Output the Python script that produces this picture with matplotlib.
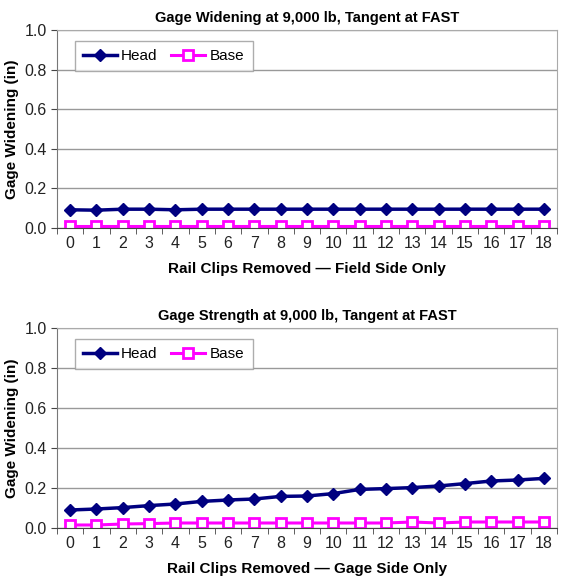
import numpy as np
import matplotlib.pyplot as plt

plt.rcParams['font.family'] = ['Liberation Sans Narrow', 'Liberation Sans', 'DejaVu Sans']

clips = list(range(19))

# Field side only
field_head = [0.092, 0.090, 0.095, 0.095, 0.092, 0.095, 0.095, 0.095, 0.095, 0.095,
              0.095, 0.095, 0.095, 0.095, 0.095, 0.095, 0.095, 0.095, 0.095]
field_base = [0.012, 0.012, 0.012, 0.012, 0.012, 0.012, 0.012, 0.012, 0.012, 0.012,
              0.012, 0.012, 0.012, 0.012, 0.012, 0.012, 0.012, 0.012, 0.012]

# Gage side only
gage_head = [0.090, 0.095, 0.102, 0.112, 0.120, 0.133, 0.140, 0.145, 0.158, 0.160,
             0.172, 0.193, 0.197, 0.202, 0.210, 0.222, 0.235, 0.240, 0.248]
gage_base = [0.015, 0.015, 0.020, 0.022, 0.025, 0.025, 0.025, 0.025, 0.025, 0.025,
             0.025, 0.025, 0.025, 0.030, 0.025, 0.030, 0.030, 0.030, 0.030]

panels = [
    ('Gage Widening at 9,000 lb, Tangent at FAST', 'Rail Clips Removed \u2014 Field Side Only',
     field_head, field_base),
    ('Gage Strength at 9,000 lb, Tangent at FAST', 'Rail Clips Removed \u2014 Gage Side Only',
     gage_head, gage_base),
]

navy = '#000080'
magenta = '#ff00ff'

fig = plt.figure(figsize=(5.64, 5.83), dpi=100)
W, H = 564, 583
boxes = [(57, 30, 557, 228), (57, 328, 557, 528)]

for (title, xlabel, head, base), (x0, y0, x1, y1) in zip(panels, boxes):
    ax = fig.add_axes([x0 / W, 1 - y1 / H, (x1 - x0) / W, (y1 - y0) / H])
    ax.plot(clips, head, color=navy, lw=2.5, marker='D', ms=6,
            mfc=navy, mec=navy, label='Head')
    ax.plot(clips, base, color=magenta, lw=2.2, marker='s', ms=7,
            mfc='white', mec=magenta, mew=2, label='Base')
    ax.set_xlim(-0.5, 18.5)
    ax.set_ylim(0, 1.0)
    ax.set_yticks(np.arange(0, 1.01, 0.2))
    ax.set_yticklabels([f'{v:.1f}' for v in np.arange(0, 1.01, 0.2)])
    ax.set_xticks(clips)
    ax.set_xticks(np.arange(-0.5, 18.6, 1), minor=True)
    ax.tick_params(axis='x', which='major', length=0, labelsize=11.5, colors='#222222', pad=6)
    ax.tick_params(axis='x', which='minor', length=4, direction='out', color='#444444')
    ax.tick_params(axis='y', length=4, direction='out', labelsize=11.5, colors='#444444',
                   labelcolor='#222222')
    ax.grid(axis='y', color='#999999', lw=1)
    ax.set_axisbelow(True)
    for side in ['top', 'right']:
        ax.spines[side].set_color('#aaaaaa')
    ax.spines['left'].set_color('#777777')
    ax.spines['bottom'].set_color('#444444')
    ax.set_title(title, fontsize=10.5, fontweight='bold', pad=6)
    ax.set_xlabel(xlabel, fontsize=11, fontweight='bold', labelpad=8)
    ax.set_ylabel('Gage Widening (in)', fontsize=11, fontweight='bold', labelpad=4)
    leg = ax.legend(loc='upper left', ncol=2, fontsize=11, frameon=True, fancybox=False,
                    edgecolor='#999999', handlelength=2.2, columnspacing=0.9,
                    handletextpad=0.3, borderpad=0.55, bbox_to_anchor=(0.02, 0.985))
    leg.get_frame().set_linewidth(1)

fig.savefig('out.png', dpi=100)
